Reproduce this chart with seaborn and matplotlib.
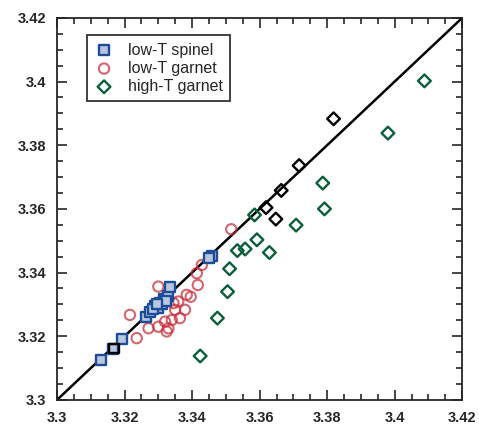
import pandas as pd
import matplotlib
matplotlib.use("Agg")
import matplotlib.pyplot as plt
import seaborn as sns
from matplotlib.ticker import MultipleLocator, FormatStrFormatter

# low-T spinel
spinel_x = [3.3129, 3.3167, 3.3193, 3.3263, 3.3276, 3.3290, 3.3305, 3.3317, 3.3329, 3.3299, 3.3335,
            3.3458, 3.3450, 3.3284, 3.3312, 3.3322, 3.3296]
spinel_y = [3.3126, 3.3160, 3.3191, 3.3259, 3.3276, 3.3295, 3.3305, 3.3317, 3.3327, 3.3289, 3.3356,
            3.3452, 3.3446, 3.3286, 3.3300, 3.3310, 3.3302]
# odd black square
black_sq_x = [3.3169]
black_sq_y = [3.3162]

# low-T garnet
garnet_x = [3.3300, 3.3417, 3.3384, 3.3359, 3.3379, 3.3350, 3.3364, 3.3340, 3.3320, 3.3330,
            3.3300, 3.3271, 3.3236, 3.3325, 3.3345, 3.3414, 3.3429, 3.3216, 3.3516, 3.3396]
garnet_y = [3.3356, 3.3361, 3.3330, 3.3309, 3.3283, 3.3283, 3.3257, 3.3251, 3.3246, 3.3225,
            3.3230, 3.3225, 3.3194, 3.3215, 3.3304, 3.3398, 3.3424, 3.3267, 3.3536, 3.3324]

# high-T garnet (green)
hiT_x = [3.4088, 3.3980, 3.3787, 3.3792, 3.3708, 3.3592, 3.3629, 3.3534, 3.3557, 3.3511,
         3.3505, 3.3475, 3.3424, 3.3585]
hiT_y = [3.4002, 3.3838, 3.3681, 3.3600, 3.3549, 3.3503, 3.3463, 3.3469, 3.3474, 3.3412,
         3.3340, 3.3257, 3.3138, 3.3581]
# high-T garnet (black, near 1:1 line)
hiT_blk_x = [3.3819, 3.3717, 3.3664, 3.3619, 3.3648]
hiT_blk_y = [3.3883, 3.3736, 3.3658, 3.3604, 3.3568]

sns.set_style("ticks")
plt.rcParams['font.family'] = ['Liberation Sans', 'DejaVu Sans']

fig = plt.figure(figsize=(4.79, 4.25), dpi=100)
ax = fig.add_axes([0.119, 0.059, 0.846, 0.899])

# 1:1 line
ax.plot([3.3, 3.42], [3.3, 3.42], color="black", lw=1.8, zorder=1)

sns.scatterplot(x=spinel_x, y=spinel_y, marker="s", s=45, facecolor="#b9c7de",
                edgecolor="#1d4c98", linewidth=1.7, ax=ax, label="low-T spinel", zorder=3)
sns.scatterplot(x=black_sq_x, y=black_sq_y, marker="s", s=45, facecolor="none",
                edgecolor="black", linewidth=1.7, ax=ax, zorder=3)
sns.scatterplot(x=garnet_x, y=garnet_y, marker="o", s=55, facecolor="none",
                edgecolor="#c8323e", linewidth=1.5, alpha=0.75, ax=ax, label="low-T garnet", zorder=2)
sns.scatterplot(x=hiT_x, y=hiT_y, marker="D", s=42, facecolor="none",
                edgecolor="#0b5e3a", linewidth=1.7, ax=ax, label="high-T garnet", zorder=2)
sns.scatterplot(x=hiT_blk_x, y=hiT_blk_y, marker="D", s=42, facecolor="none",
                edgecolor="black", linewidth=1.7, ax=ax, zorder=2)

ax.set_xlim(3.3, 3.42)
ax.set_ylim(3.3, 3.42)
ax.xaxis.set_major_locator(MultipleLocator(0.02))
ax.yaxis.set_major_locator(MultipleLocator(0.02))
ax.xaxis.set_minor_locator(MultipleLocator(0.005))
ax.yaxis.set_minor_locator(MultipleLocator(0.005))
ax.xaxis.set_major_formatter(FormatStrFormatter("%g"))
ax.yaxis.set_major_formatter(FormatStrFormatter("%g"))
ax.tick_params(which="both", direction="in", top=True, right=True, labelsize=10.5, width=1.2)
ax.tick_params(which="major", length=7)
ax.tick_params(which="minor", length=4)
for lab in ax.get_xticklabels() + ax.get_yticklabels():
    lab.set_fontweight("bold")
ax.tick_params(axis="x", pad=8)
ax.tick_params(axis="y", pad=8)
for sp in ax.spines.values():
    sp.set_linewidth(1.3)

leg = ax.legend(loc="upper left", bbox_to_anchor=(0.055, 0.975), frameon=True, fancybox=False,
                edgecolor="black", fontsize=11.5, handletextpad=0.9, borderpad=0.45,
                labelspacing=0.2, handlelength=1.2)
leg.get_frame().set_linewidth(1.3)

fig.savefig("out.png", dpi=100)
